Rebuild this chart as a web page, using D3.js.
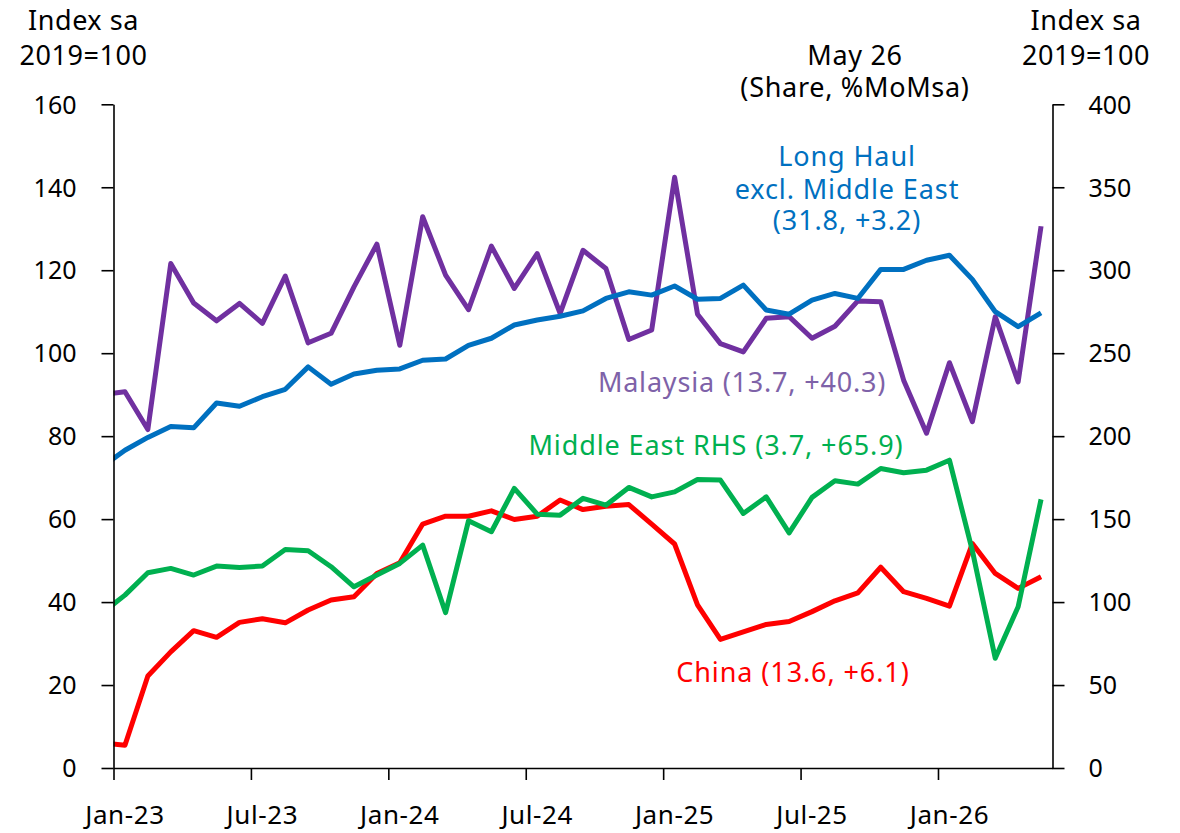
<!DOCTYPE html>
<html>
<head>
<meta charset="utf-8">
<script src="https://cdn.jsdelivr.net/npm/d3@7"></script>
<style>
  html, body { margin: 0; padding: 0; background: #fff; }
  svg { display: block; }
  text { font-family: "Noto Sans", "Open Sans", sans-serif; }
</style>
</head>
<body>
<svg id="chart" width="1180" height="833"></svg>
<script>
// Months: Dec-22 (clipped, partial segment at left edge) then Jan-23 .. May-26
const months = ["Dec-22",
  "Jan-23","Feb-23","Mar-23","Apr-23","May-23","Jun-23","Jul-23","Aug-23","Sep-23","Oct-23","Nov-23","Dec-23",
  "Jan-24","Feb-24","Mar-24","Apr-24","May-24","Jun-24","Jul-24","Aug-24","Sep-24","Oct-24","Nov-24","Dec-24",
  "Jan-25","Feb-25","Mar-25","Apr-25","May-25","Jun-25","Jul-25","Aug-25","Sep-25","Oct-25","Nov-25","Dec-25",
  "Jan-26","Feb-26","Mar-26","Apr-26","May-26"];

const longHaul = [72.6,
  76.6,79.7,82.3,82.0,88.0,87.2,89.5,91.3,96.7,92.5,95.0,95.9,
  96.2,98.3,98.6,101.9,103.6,106.8,108.0,108.9,110.2,113.2,114.8,114.0,
  116.2,113.0,113.2,116.4,110.4,109.4,112.8,114.4,113.2,120.2,120.2,122.4,
  123.6,117.8,110.0,106.4,109.7];

const malaysia = [90.0,
  90.7,81.6,121.6,112.1,107.8,112.0,107.2,118.6,102.5,104.8,116.0,126.3,
  101.9,132.9,118.8,110.5,125.8,115.6,124.0,109.6,124.8,120.4,103.3,105.6,
  142.4,109.4,102.3,100.3,108.4,108.8,103.6,106.5,112.6,112.4,93.5,80.7,
  97.7,83.5,108.8,93.1,130.6];

const china = [6.0,
  5.5,22.2,28.0,33.1,31.5,35.1,36.0,35.0,38.1,40.5,41.3,46.9,
  49.5,58.8,60.7,60.7,62.0,59.9,60.7,64.6,62.3,63.1,63.5,58.8,
  54.0,39.3,31.0,32.8,34.6,35.3,37.7,40.3,42.2,48.4,42.5,40.9,
  39.0,54.1,46.9,43.3,46.1];

// Middle East on the right-hand axis (0-400)
const middleEast = [93.4,
  104.2,117.7,120.3,116.3,121.7,120.9,121.7,131.7,130.9,121.3,109.2,116.3,
  123.3,134.3,93.6,149.0,142.4,168.5,153.0,152.4,162.5,158.4,169.1,163.4,
  166.4,173.9,173.5,153.4,163.4,141.7,163.1,173.1,171.1,180.5,177.9,179.5,
  185.5,131.0,66.1,97.2,161.9];

const xTickLabels = ["Jan-23","Jul-23","Jan-24","Jul-24","Jan-25","Jul-25","Jan-26"];
const leftTicks = [0,20,40,60,80,100,120,140,160];
const rightTicks = [0,50,100,150,200,250,300,350,400];

const svg = d3.select("#chart");
const L = 113.5, R = 1052.5, T = 104.3, B = 768;

// month index: Jan-23 = 0; categories drawn between tick marks
const x = d3.scaleLinear().domain([-0.5, 40.5]).range([L, R]);
const yL = d3.scaleLinear().domain([0, 160]).range([B, T]);
const yR = d3.scaleLinear().domain([0, 400]).range([B, T]);
const idx = i => i - 1; // array index -> month index (Dec-22 = -1)

svg.append("defs").append("clipPath").attr("id", "plot")
  .append("rect").attr("x", L).attr("y", 0).attr("width", R - L).attr("height", B + 5);

const plot = svg.append("g").attr("clip-path", "url(#plot)");

function drawLine(data, yScale, color) {
  const line = d3.line()
    .x((d, i) => x(idx(i)))
    .y(d => yScale(d));
  plot.append("path").datum(data)
    .attr("d", line)
    .attr("fill", "none")
    .attr("stroke", color)
    .attr("stroke-width", 5)
    .attr("stroke-linejoin", "round")
    .attr("stroke-linecap", "butt");
}
drawLine(china, yL, "#FF0000");
drawLine(middleEast, yR, "#00B050");
drawLine(malaysia, yL, "#7030A0");
drawLine(longHaul, yL, "#0070C0");

// Axes
const axisColor = "#000";
const gL = svg.append("g").attr("transform", `translate(${L},0)`)
  .call(d3.axisLeft(yL).tickValues(leftTicks).tickSize(12).tickPadding(25).tickSizeOuter(0));
const gR = svg.append("g").attr("transform", `translate(${R},0)`)
  .call(d3.axisRight(yR).tickValues(rightTicks).tickSize(12).tickPadding(24).tickSizeOuter(0));
const boundaries = d3.range(0, 7).map(k => k * 6 - 0.5);
const gB = svg.append("g").attr("transform", `translate(0,${B})`)
  .call(d3.axisBottom(x).tickValues(boundaries).tickSize(12).tickFormat("").tickSizeOuter(0));

[gL, gR, gB].forEach(g => {
  g.selectAll("path.domain").attr("stroke", axisColor).attr("stroke-width", 1.6);
  g.selectAll(".tick line").attr("stroke", axisColor).attr("stroke-width", 1.6);
  g.selectAll("text").attr("fill", "#000").style("font-size", "25px")
    .style("font-family", "'Noto Sans', sans-serif");
});
gL.selectAll("text").attr("dy", "0.35em");
gR.selectAll("text").attr("dy", "0.35em");

// x labels at category centres
svg.append("g").selectAll("text").data(xTickLabels).join("text")
  .attr("x", (d, i) => x(i * 6))
  .attr("y", 824)
  .attr("text-anchor", "middle")
  .style("font-size", "26px")
  .style("letter-spacing", "0.6px")
  .attr("fill", "#000")
  .text(d => d);

// Multi-line text block: lines = [[string, baselineY], ...]
function block(lines, cx, color, size, ls) {
  const t = svg.append("text")
    .attr("text-anchor", "middle")
    .attr("fill", color)
    .style("font-size", size + "px")
    .style("letter-spacing", (ls || 0) + "px");
  lines.forEach(([s, y]) => {
    t.append("tspan").attr("x", cx).attr("y", y).text(s);
  });
}
block([["Index sa", 30], ["2019=100", 65]], 83.5, "#000", 27, 0.55);
block([["Index sa", 30], ["2019=100", 65]], 1086, "#000", 27, 0.55);
block([["May 26", 65], ["(Share, %MoMsa)", 97]], 855, "#000", 27, 0.7);

block([["Long Haul", 166], ["excl. Middle East", 199], ["(31.8, +3.2)", 230]], 847, "#0070C0", 27, 0.9);
block([["Malaysia (13.7, +40.3)", 392]], 742, "#7E62A8", 27, 0.8);
block([["Middle East RHS (3.7, +65.9)", 455]], 716, "#00B050", 27, 0.9);
block([["China (13.6, +6.1)", 682]], 793, "#FF0000", 27, 0.9);
</script>
</body>
</html>
